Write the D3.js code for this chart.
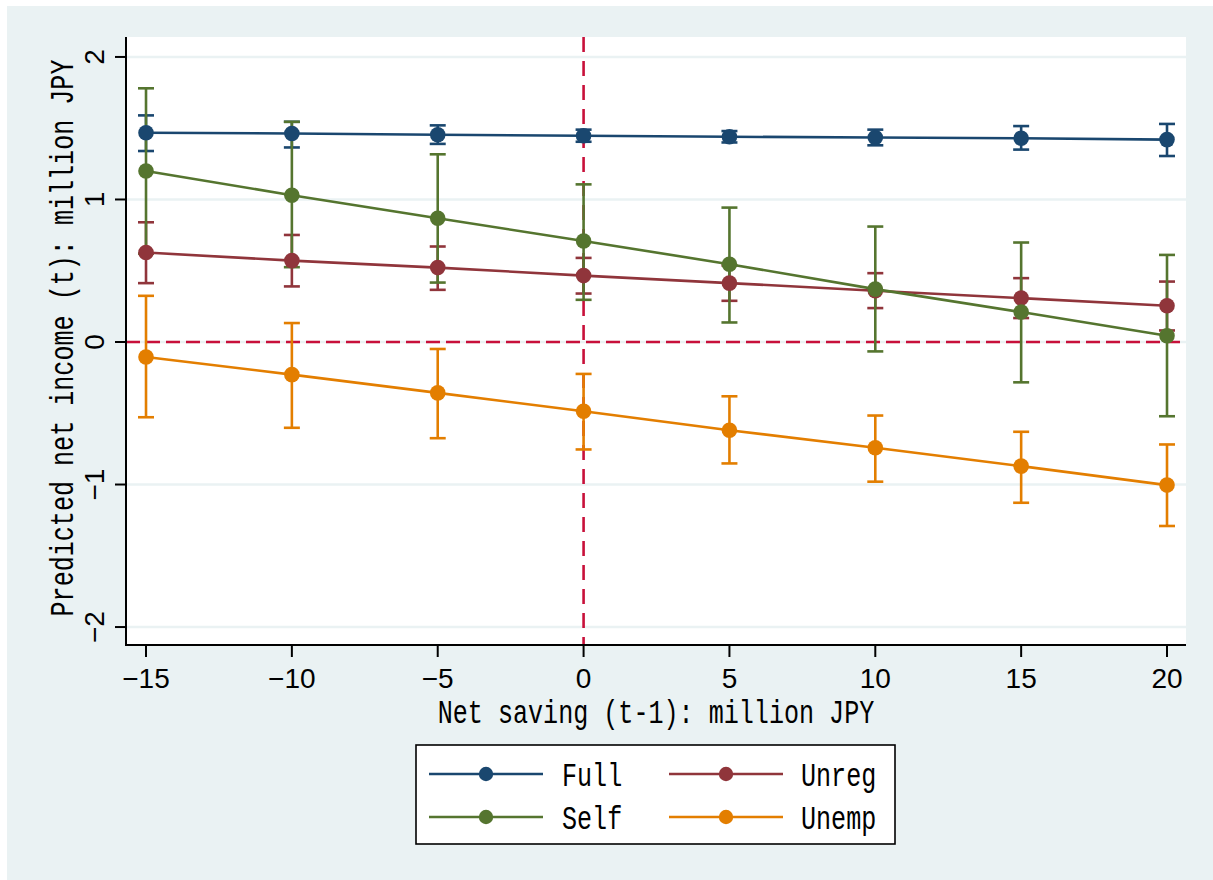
<!DOCTYPE html>
<html>
<head>
<meta charset="utf-8">
<script src="https://cdn.jsdelivr.net/npm/d3@7"></script>
<style>
  html, body { margin: 0; padding: 0; background: #ffffff; }
  svg { display: block; }
</style>
</head>
<body>
<div id="chart"></div>
<script>
// ---------------- DATA ----------------
const xValues = [-15, -10, -5, 0, 5, 10, 15, 20];
const xTicks = [-15, -10, -5, 0, 5, 10, 15, 20];
const yTicks = [-2, -1, 0, 1, 2];

const seriesNames = ["Full", "Unreg", "Self", "Unemp"];

const fullEst = [1.468, 1.463, 1.454, 1.447, 1.440, 1.435, 1.430, 1.420];
const fullLo  = [1.340, 1.365, 1.390, 1.405, 1.400, 1.380, 1.350, 1.305];
const fullHi  = [1.590, 1.545, 1.520, 1.490, 1.480, 1.490, 1.515, 1.530];

const unregEst = [0.628, 0.571, 0.522, 0.466, 0.413, 0.360, 0.308, 0.254];
const unregLo  = [0.413, 0.390, 0.366, 0.340, 0.289, 0.238, 0.168, 0.081];
const unregHi  = [0.840, 0.751, 0.670, 0.590, 0.537, 0.483, 0.448, 0.424];

const selfEst = [1.200, 1.030, 0.868, 0.709, 0.546, 0.371, 0.210, 0.044];
const selfLo  = [0.620, 0.525, 0.417, 0.296, 0.137, -0.066, -0.283, -0.521];
const selfHi  = [1.780, 1.545, 1.317, 1.106, 0.943, 0.810, 0.698, 0.611];

const unempEst = [-0.105, -0.229, -0.357, -0.486, -0.619, -0.742, -0.871, -1.004];
const unempLo  = [-0.528, -0.602, -0.675, -0.754, -0.852, -0.980, -1.128, -1.291];
const unempHi  = [0.324, 0.133, -0.049, -0.224, -0.381, -0.516, -0.630, -0.719];

const xTitle = "Net saving (t-1): million JPY";
const yTitle = "Predicted net income (t): million JPY";

// ---------------- STYLE / LAYOUT ----------------
const W = 1213, H = 880;
const plot = { left: 126, right: 1186, top: 37, bottom: 645 };
const colors = { Full: "#1a476f", Unreg: "#90353b", Self: "#55752f", Unemp: "#e37e00" };
const bgLight = "#eaf2f3";
const refColor = "#c8103a";
const monoFont = "'Liberation Mono', 'DejaVu Sans Mono', monospace";
const sansFont = "'Liberation Sans', Arial, sans-serif";

const series = [
  { name: "Full",  est: fullEst,  lo: fullLo,  hi: fullHi },
  { name: "Unreg", est: unregEst, lo: unregLo, hi: unregHi },
  { name: "Self",  est: selfEst,  lo: selfLo,  hi: selfHi },
  { name: "Unemp", est: unempEst, lo: unempLo, hi: unempHi }
];

const x = d3.scaleLinear().domain([-15.686, 20.651]).range([plot.left, plot.right]);
const y = d3.scaleLinear().domain([-2.126, 2.140]).range([plot.bottom, plot.top]);

const svg = d3.select("#chart").append("svg").attr("width", W).attr("height", H);

svg.append("rect").attr("x", 0).attr("y", 0).attr("width", W).attr("height", H).attr("fill", "#ffffff");
svg.append("rect").attr("x", 7).attr("y", 6).attr("width", W - 7).attr("height", H - 6).attr("fill", bgLight);
svg.append("rect").attr("x", plot.left).attr("y", plot.top)
  .attr("width", plot.right - plot.left).attr("height", plot.bottom - plot.top).attr("fill", "#ffffff");

// gridlines
svg.append("g").selectAll("line").data(yTicks).join("line")
  .attr("x1", plot.left).attr("x2", plot.right)
  .attr("y1", d => y(d)).attr("y2", d => y(d))
  .attr("stroke", bgLight).attr("stroke-width", 2.5);

// reference lines
svg.append("line")
  .attr("x1", plot.left).attr("x2", plot.right).attr("y1", y(0)).attr("y2", y(0))
  .attr("stroke", refColor).attr("stroke-width", 2.6).attr("stroke-dasharray", "14,6");
svg.append("line")
  .attr("x1", x(0)).attr("x2", x(0)).attr("y1", plot.top).attr("y2", plot.bottom)
  .attr("stroke", refColor).attr("stroke-width", 2.6).attr("stroke-dasharray", "15,9");

// CIs
const capHalf = 8;
series.forEach(s => {
  const g = svg.append("g").attr("stroke", colors[s.name]).attr("stroke-width", 2.6).attr("fill", "none");
  xValues.forEach((xv, i) => {
    g.append("line").attr("x1", x(xv)).attr("x2", x(xv)).attr("y1", y(s.lo[i])).attr("y2", y(s.hi[i]));
    g.append("line").attr("x1", x(xv) - capHalf).attr("x2", x(xv) + capHalf).attr("y1", y(s.lo[i])).attr("y2", y(s.lo[i]));
    g.append("line").attr("x1", x(xv) - capHalf).attr("x2", x(xv) + capHalf).attr("y1", y(s.hi[i])).attr("y2", y(s.hi[i]));
  });
});

// lines + points
const lineGen = d3.line().x(d => x(d[0])).y(d => y(d[1]));
series.forEach(s => {
  const pts = xValues.map((xv, i) => [xv, s.est[i]]);
  svg.append("path").attr("d", lineGen(pts)).attr("fill", "none")
    .attr("stroke", colors[s.name]).attr("stroke-width", 2.6);
  svg.append("g").selectAll("circle").data(pts).join("circle")
    .attr("cx", d => x(d[0])).attr("cy", d => y(d[1])).attr("r", 7.8)
    .attr("fill", colors[s.name]);
});

// axes
const axisG = svg.append("g").attr("stroke", "#000").attr("stroke-width", 2);
axisG.append("line").attr("x1", plot.left).attr("x2", plot.left).attr("y1", plot.top).attr("y2", plot.bottom + 1);
axisG.append("line").attr("x1", plot.left - 1).attr("x2", plot.right).attr("y1", plot.bottom).attr("y2", plot.bottom);
yTicks.forEach(t => {
  axisG.append("line").attr("x1", plot.left - 11).attr("x2", plot.left).attr("y1", y(t)).attr("y2", y(t));
});
xTicks.forEach(t => {
  axisG.append("line").attr("x1", x(t)).attr("x2", x(t)).attr("y1", plot.bottom).attr("y2", plot.bottom + 12);
});

const fmt = v => (v < 0 ? "\u2212" + Math.abs(v) : String(v));
svg.append("g").selectAll("text").data(xTicks).join("text")
  .attr("x", d => x(d)).attr("y", 688)
  .attr("text-anchor", "middle").attr("font-family", sansFont).attr("font-size", 28)
  .attr("fill", "#000").text(fmt);
svg.append("g").selectAll("text").data(yTicks).join("text")
  .attr("transform", d => `translate(104,${y(d)}) rotate(-90)`)
  .attr("text-anchor", "middle").attr("font-family", sansFont).attr("font-size", 28)
  .attr("fill", "#000").text(fmt);

// monospace, tall text (Stata-style Gothic look)
function monoText(parent, str, tx, ty, rot, anchor) {
  return parent.append("text")
    .attr("transform", `translate(${tx},${ty})` + (rot ? ` rotate(${rot})` : "") + " scale(1,1.35)")
    .attr("text-anchor", anchor || "middle")
    .attr("font-family", monoFont).attr("font-size", 25.1).attr("fill", "#000")
    .text(str);
}
monoText(svg, xTitle, (plot.left + plot.right) / 2, 723, 0, "middle");
monoText(svg, yTitle, 73, 338, -90, "middle");

// legend
const leg = svg.append("g");
leg.append("rect").attr("x", 416).attr("y", 745).attr("width", 479).attr("height", 99)
  .attr("fill", "#ffffff").attr("stroke", "#000").attr("stroke-width", 1.6);
const legPos = [
  { name: "Full",  lx: 429, ty: 774, tx: 562, base: 786 },
  { name: "Unreg", lx: 669, ty: 774, tx: 801, base: 786 },
  { name: "Self",  lx: 429, ty: 817, tx: 562, base: 829 },
  { name: "Unemp", lx: 669, ty: 817, tx: 801, base: 829 }
];
legPos.forEach(p => {
  leg.append("line").attr("x1", p.lx).attr("x2", p.lx + 114).attr("y1", p.ty).attr("y2", p.ty)
    .attr("stroke", colors[p.name]).attr("stroke-width", 2.6);
  leg.append("circle").attr("cx", p.lx + 57).attr("cy", p.ty).attr("r", 7.2).attr("fill", colors[p.name]);
  monoText(leg, p.name, p.tx, p.base, 0, "start");
});
</script>
</body>
</html>
